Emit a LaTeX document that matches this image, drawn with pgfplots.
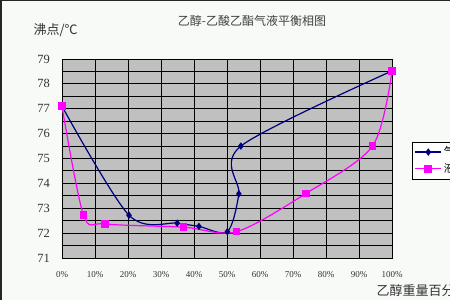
\documentclass[border=0pt]{standalone}
\usepackage{fontspec}
\setmainfont{Liberation Serif}
\newfontfamily\cjk{Noto Sans CJK SC}
\usepackage{pgfplots}
\pgfplotsset{compat=1.18}
\definecolor{bg}{HTML}{F7FAF7}
\definecolor{plotgray}{HTML}{C0C0C0}
\definecolor{navy}{HTML}{000080}
\definecolor{mag}{HTML}{FF00FF}
\begin{document}
\begin{tikzpicture}
\path[use as bounding box] (0pt,0pt) rectangle (450pt,300pt);
\clip (0pt,0pt) rectangle (450pt,300pt);
\fill[bg] (0pt,0pt) rectangle (450pt,300pt);
\draw[line width=1.5pt, black!85] (0.75pt,0pt) -- (0.75pt,299.25pt) -- (450pt,299.25pt);
\node[font=\cjk\fontsize{12}{12}\selectfont, text=black!75] at (252pt,279pt) {乙醇-乙酸乙酯气液平衡相图};
\node[font=\cjk\fontsize{13}{13}\selectfont, anchor=west, text=black!80] at (30pt,270pt) {沸点/℃};
\node[font=\cjk\fontsize{13}{13}\selectfont, anchor=west, text=black!80] at (373pt,9pt) {乙醇重量百分数};
\begin{axis}[
  at={(62pt,42pt)}, anchor=south west, scale only axis,
  width=330pt, height=199pt,
  xmin=0, xmax=100, ymin=71, ymax=79,
  xtick={0,10,...,100}, ytick={71,72,...,79},
  minor ytick={71.5,72.5,...,78.5},
  grid=both,
  major grid style={black, line width=0.9pt},
  minor grid style={black, line width=0.9pt},
  axis background/.style={fill=plotgray},
  axis line style={black, line width=0.9pt},
  major tick length=0pt, minor tick length=0pt,
  /pgf/number format/assume math mode=true,
  xticklabel={\pgfmathprintnumber{\tick}\%},
  xticklabel style={font=\fontsize{9}{9}\selectfont, inner sep=0pt, anchor=north, yshift=-13pt, text=black!80},
  yticklabel style={font=\fontsize{12.5}{12.5}\selectfont, inner sep=0pt, anchor=east, xshift=-12pt, text=black!80},
  legend style={at={(1.0606,0.583)}, anchor=north west, draw=black, fill=white,
    font=\cjk\fontsize{11}{11}\selectfont, row sep=2pt, inner sep=2.5pt},
  legend cell align=left,
  legend image code/.code={\draw[mark repeat=2, mark phase=2] plot coordinates {(0pt,0pt) (13pt,0pt) (26pt,0pt)};},
]
\addplot[navy, line width=1.2pt, smooth, tension=0.5, mark=diamond*, mark size=2.8pt, mark options={fill=navy, draw=navy}]
coordinates {(0,77.1) (20.3,72.72) (34.9,72.4) (41.5,72.27) (50.1,72.06) (53.6,73.58) (54.2,75.5) (100,78.52)};
\addlegendentry{气相}
\addplot[mag, line width=1.2pt, smooth, tension=0.5, mark=square*, mark size=3.2pt, mark options={fill=mag, draw=mag}]
coordinates {(0,77.1) (6.5,72.73) (13,72.37) (36.8,72.24) (52.9,72.06) (74,73.6) (94.1,75.5) (100,78.52)};
\addlegendentry{液相}
\end{axis}
\end{tikzpicture}
\end{document}
